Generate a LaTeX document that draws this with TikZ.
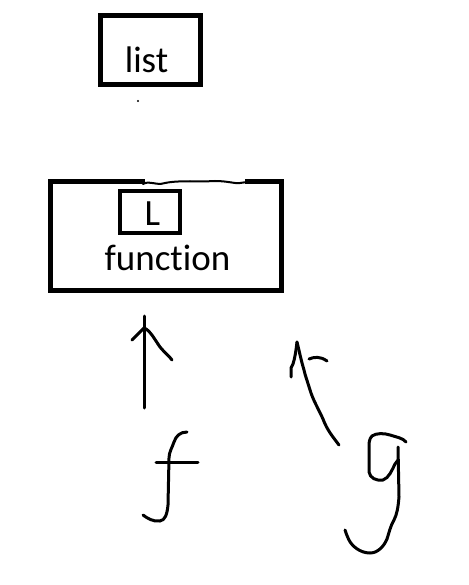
\documentclass[tikz,border=0pt]{standalone}
\usepackage{fontspec}
\setmainfont[Ligatures={NoCommon}]{Carlito}
\begin{document}
\begin{tikzpicture}[x=1pt,y=-1pt,
  boxline/.style={line width=4.6pt},
  pen/.style={line width=3pt,line cap=round,line join=round},
  lbl/.style={font=\fontsize{37}{42}\selectfont,anchor=base,inner sep=0pt}]
\useasboundingbox[fill=white] (0,0) rectangle (468,585);
% list box
\draw[boxline] (100.5,15.5) rectangle (200.5,84.5);
\node[lbl] (list) at (146.5,73) {list};
\fill (138,101) circle (1.2);
% function box
\draw[boxline] (145,181.5) -- (50.5,181.5) -- (50.5,290.5) -- (281.5,290.5) -- (281.5,181.5) -- (245,181.5);
\draw[line width=2pt,line cap=round] (143,184) .. controls (150,180) and (156,186) .. (165,183)
  .. controls (180,180) and (200,182) .. (215,181) .. controls (228,181) and (236,184) .. (240,183)
  -- (247,182);
\node[lbl] (func) at (167.5,270) {function};
% inner L box
\draw[line width=4pt] (120,191) rectangle (179.5,232.5);
\node[lbl] (L) at (152.5,225) {L};
% arrow from f
\draw[pen] (144,408) -- (144,316);
\draw[pen] (132,340) -- (144,328) .. controls (150,330) and (155,340) .. (160,347) .. controls (165,353) and (170,357) .. (172,360);
% f
\draw[pen] (187,432) .. controls (180,432) and (176,436) .. (174,442) .. controls (172,448) and (169,452) .. (169,458)
  -- (168,505) .. controls (167,515) and (165,520) .. (160,521) .. controls (153,522) and (147,518) .. (143,515);
\draw[pen] (156,462) -- (198,462);
% arrow from g
\draw[pen] (339,445) .. controls (333,437) and (327,430) .. (323,419) .. controls (318,408) and (313,400) .. (310,390)
  .. controls (307,380) and (305,375) .. (304,370) .. controls (301,360) and (299,350) .. (297,342);
\draw[pen] (297,342) .. controls (296,350) and (295,358) .. (293,364) -- (291,368) -- (291,377);
\draw[pen] (309,359) .. controls (314,357) and (320,356) .. (327,361);
% g
\draw[pen] (406,442) .. controls (403,438) and (396,437) .. (390,435) .. controls (384,433) and (376,433) .. (372,436)
  .. controls (369,439) and (369,443) .. (369,447) -- (369,472) .. controls (370,478) and (376,481) .. (383,480)
  .. controls (389,478) and (392,470) .. (395,464) -- (398,460);
\draw[pen] (398,447) -- (399,497) .. controls (398,508) and (397,514) .. (394,520)
  .. controls (390,527) and (389,533) .. (387,539) .. controls (384,546) and (378,553) .. (370,553)
  .. controls (360,553) and (352,546) .. (349,540) .. controls (347,536) and (346,533) .. (345,530);
\end{tikzpicture}
\end{document}
